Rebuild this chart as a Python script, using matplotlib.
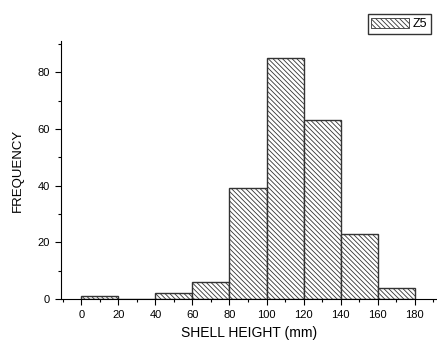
import numpy as np
import matplotlib.pyplot as plt
from matplotlib.ticker import MultipleLocator
from matplotlib.patches import Patch

plt.rcParams['font.family'] = ['Liberation Sans', 'DejaVu Sans']
plt.rcParams['hatch.linewidth'] = 0.6
plt.rcParams['hatch.color'] = '#222222'

# 階級の左端と度数
bin_left = [0, 20, 40, 60, 80, 100, 120, 140, 160]
freq = [1, 0, 2, 6, 39, 85, 63, 23, 4]
bin_width = 20
hatch = '\\' * 7

fig = plt.figure(figsize=(4.37, 3.42), dpi=100)
ax = fig.add_axes([0.1396, 0.1257, 0.86, 0.7543])

ax.bar(bin_left, freq, width=bin_width, align='edge', color='white',
       edgecolor='#333333', linewidth=1.0, hatch=hatch)

ax.set_xlim(-11, 192)
ax.set_ylim(0, 91)
ax.xaxis.set_major_locator(MultipleLocator(20))
ax.xaxis.set_minor_locator(MultipleLocator(10))
ax.yaxis.set_major_locator(MultipleLocator(20))
ax.yaxis.set_minor_locator(MultipleLocator(10))
ax.set_xticks(np.arange(0, 181, 20))
ax.tick_params(which='major', direction='out', length=4, width=0.8, labelsize=8, pad=4)
ax.tick_params(which='minor', direction='out', length=2.5, width=0.8)

for s in ['top', 'right']:
    ax.spines[s].set_visible(False)
for s in ['left', 'bottom']:
    ax.spines[s].set_linewidth(0.8)

ax.set_xlabel('SHELL HEIGHT (mm)', fontsize=10, labelpad=4)
ax.set_ylabel('FREQUENCY', fontsize=9.5, labelpad=10)

handle = Patch(facecolor='white', edgecolor='#333333', hatch=hatch, linewidth=0.6)
fig.legend([handle], ['Z5'], loc='upper right', bbox_to_anchor=(1.0, 0.978),
           fontsize=9, frameon=True, fancybox=False, edgecolor='black',
           handlelength=3.0, handleheight=0.9, borderpad=0.3, handletextpad=0.3)

plt.savefig('out.png', dpi=100)
